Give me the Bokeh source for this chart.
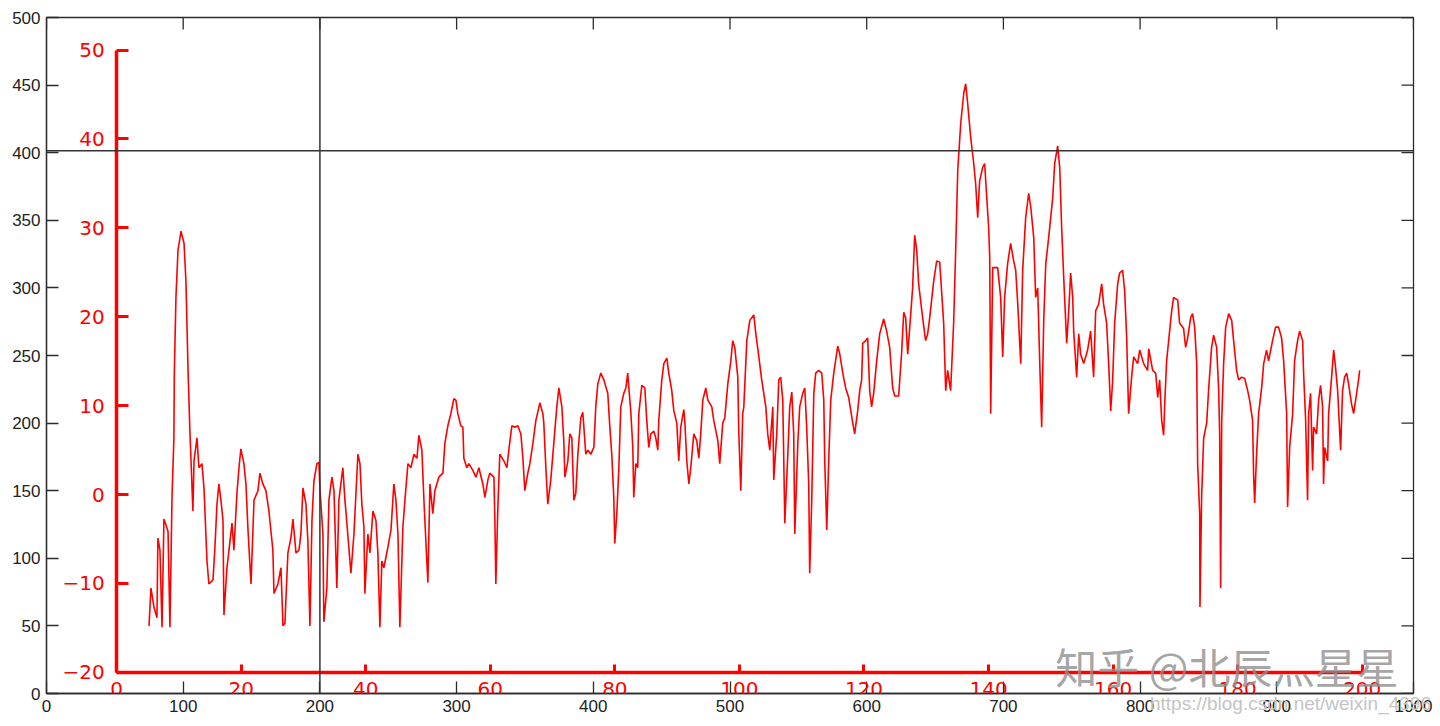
from bokeh.plotting import figure
from bokeh.models import LinearAxis, Range1d, FixedTicker, Span, Label
from bokeh.embed import file_html
from bokeh.resources import INLINE

# ---- axes ticks ----
x_ticks = list(range(0, 1001, 100))
y_ticks = list(range(0, 501, 50))
red_x_ticks = list(range(0, 201, 20))
red_y_ticks = list(range(-20, 51, 10))

# crosshair cursor position (black axes units)
cursor_x = 200
cursor_y = 401.5

# red overlay's own axes expressed against the black axes' range
red_x_range = (-11.26, 208.23)
red_y_range = (-22.38, 53.66)

# watermark texts
wm_zhihu = "知乎 @北辰灬星星"
wm_csdn = "https://blog.csdn.net/weixin_4396"

# ---- red trace (black axes units) ----
x_vals = [
    75.0, 76.4, 78.6, 80.8, 81.5, 83.0, 84.5, 85.9, 88.9, 90.3, 91.8, 93.2, 93.5, 94.7, 96.2, 98.4,
    100.6, 102.0, 103.5, 104.9, 107.1, 107.9, 110.1, 111.5, 113.7, 115.2, 117.4, 118.8, 121.8, 123.2,
    124.7, 126.1, 127.6, 129.1, 129.8, 132.0, 133.5, 135.7, 137.1, 139.3, 140.8, 142.2, 144.4, 145.9,
    147.4, 149.6, 151.8, 154.7, 156.1, 158.3, 160.5, 162.7, 165.6, 166.4, 169.3, 171.5, 173.0, 174.4,
    176.6, 178.8, 180.3, 182.5, 184.7, 186.1, 187.6, 189.8, 191.2, 192.7, 194.2, 195.6, 197.8, 199.3,
    200.0, 202.2, 202.9, 205.1, 206.6, 208.8, 210.3, 212.4, 213.9, 216.8, 218.3,
    219.0, 222.7, 224.9, 227.8, 229.3, 230.7, 232.2, 232.9, 235.1, 236.6, 238.8, 241.0, 242.4, 243.9,
    245.3, 246.8, 249.7, 252.0, 254.1, 255.6, 257.1, 258.5, 260.7, 262.2, 264.4, 266.6, 268.8, 271.0,
    272.4, 274.6, 276.1, 277.5, 279.0, 280.5, 282.6, 284.1, 287.0, 290.0, 291.4, 293.6, 295.8, 298.0,
    299.5, 300.9, 303.1, 304.6, 305.3, 307.5, 309.0, 311.9, 314.1, 316.3, 319.2, 320.7, 322.9, 324.3,
    327.3, 328.0, 328.7, 330.2, 331.6, 334.6, 336.8, 338.2, 340.4, 342.6, 344.8, 347.0, 348.5, 349.9,
    352.1, 353.6, 355.8, 358.0, 360.9, 363.1,
    363.8, 365.3, 366.7, 368.9, 371.1, 373.3, 374.8, 377.0, 378.4, 379.2, 381.4, 382.8, 384.3, 385.8,
    387.2, 388.7, 390.9, 392.3, 393.1, 394.5, 396.0, 398.2, 400.4, 401.8, 403.3, 405.5, 407.7, 410.6,
    412.1, 413.5, 415.0, 415.7, 417.2, 418.7, 420.1, 422.3, 423.8, 425.2, 426.0, 427.4, 428.9, 429.6,
    431.1, 432.5, 433.3, 435.5, 437.7, 439.1, 440.6, 442.1, 444.3, 445.7, 447.2, 447.9, 450.1, 451.6,
    453.8, 455.2, 457.4, 458.9, 461.1, 462.5, 464.0, 466.2, 466.9, 468.4, 469.9, 471.3, 473.5, 475.7,
    477.2, 478.6, 480.1, 482.3, 483.8, 486.7, 488.1, 491.1, 492.5, 494.7, 496.2, 498.4, 500.6, 502.0,
    503.5, 505.7, 506.4, 507.9, 509.3,
    510.1, 512.3, 514.5, 517.4, 518.9, 521.1, 523.2, 524.7, 526.2, 527.6, 529.1, 531.3, 532.0, 534.2,
    535.7, 537.1, 538.6, 540.1, 542.3, 543.7, 545.2, 546.6, 547.4, 549.6, 551.0, 553.2, 554.7, 556.1,
    557.6, 558.3, 559.8, 561.3, 562.7, 564.9, 567.1, 568.6, 569.3, 570.8, 572.2, 573.7, 575.9, 578.8,
    580.3, 582.5, 584.6, 586.8, 589.8, 591.2, 593.4, 594.9, 596.3, 597.1, 599.3, 600.7, 602.2, 603.6,
    605.1, 607.3, 609.5, 612.4, 614.6, 616.8, 619.0, 620.5, 623.4, 625.6, 627.1, 628.5, 630.0, 631.5,
    633.6, 635.1, 636.6, 638.0, 640.9, 643.1, 644.6, 646.1, 649.0, 651.2, 653.4,
    656.3, 657.8, 659.2, 661.4, 663.6, 665.1, 666.6, 668.8, 671.0, 672.4, 673.9, 676.1, 678.3, 679.7,
    681.2, 682.6, 684.8, 686.3, 687.8, 689.2, 690.0, 690.7, 692.2, 692.9, 695.8, 698.0, 699.5, 700.9,
    703.1, 705.3, 707.5, 709.0, 710.5, 712.7, 714.1, 716.3, 718.5, 720.0, 722.2, 723.6, 725.1, 726.6,
    728.0, 729.5, 731.0, 733.1, 736.1, 737.5, 739.7, 741.2, 742.6, 744.1, 746.3, 747.8, 749.2, 750.7,
    751.4, 753.6, 755.1, 756.5, 758.7, 760.2, 761.6, 763.8, 766.0, 767.5, 769.7, 771.9, 773.3, 775.5,
    777.0, 778.5, 779.9, 781.4, 783.6, 785.0, 787.2, 788.7, 790.2, 791.6, 793.8, 795.3, 798.2, 799.7,
    802.6, 805.5,
    806.3, 809.2, 811.4, 812.9, 814.3, 815.8, 817.2, 818.0, 819.4, 820.9, 823.1, 824.5, 827.5, 828.9,
    831.8, 833.3, 834.8, 837.0, 838.4, 839.9, 841.4, 842.1, 843.6, 843.8, 845.0, 846.5, 848.7, 850.2,
    852.3, 853.8, 856.0, 857.5, 858.2, 858.9, 859.7, 861.1, 862.6, 864.8, 867.0, 868.4, 870.6, 872.1,
    874.3, 876.5, 878.7, 880.1, 882.3, 883.0, 883.8, 885.2, 886.7, 888.9, 890.4, 892.5, 894.0, 896.9,
    899.1, 901.3, 903.5, 905.0, 907.2, 907.9, 909.4, 911.6, 913.0, 915.2, 916.7, 918.9, 919.6, 921.1,
    922.5, 923.3, 924.7, 926.2, 926.9, 929.1, 930.6, 932.0, 933.5, 934.2, 935.0, 937.2, 937.9, 940.1,
    941.6, 943.0, 944.5, 946.7, 948.1, 949.6, 951.1, 952.5, 954.7, 956.2, 958.4, 959.8, 960.6,
]
y_vals = [
    50, 78, 64, 56, 115, 106, 49, 129, 120, 49, 145, 189, 237, 293, 328, 342,
    333, 305, 241, 194, 135, 172, 189, 167, 170, 152, 98, 81, 84, 108,
    140, 155, 143, 128, 58, 93, 106, 126, 106, 148, 167, 181, 170, 155,
    121, 81, 143, 150, 163, 155, 150, 135, 106, 74, 81, 93, 50, 52,
    104, 115, 129, 104, 106, 118, 152, 140, 113, 50, 128, 157, 170, 171,
    152, 118, 53, 78, 143, 160, 150, 78, 143, 167, 143,
    135, 89, 118, 177, 170, 140, 123, 74, 118, 104, 135, 128, 104, 49,
    98, 93, 108, 121, 155, 143, 118, 49, 123, 143, 170, 167, 177, 174,
    191, 180, 143, 113, 82, 155, 133, 150, 160, 163, 185, 198, 207, 218,
    217, 207, 198, 197, 174, 167, 170, 165, 160, 167, 155, 145, 158, 163,
    160, 128, 81, 138, 177, 172, 167, 180, 198, 197, 198, 192, 174, 150,
    163, 170, 185, 202, 215, 207,
    200, 167, 140, 158, 185, 212, 226, 212, 187, 160, 172, 192, 189, 143,
    148, 177, 204, 208, 197, 177, 180, 177, 182, 212, 229, 237, 232, 222,
    197, 177, 145, 111, 133, 167, 212, 222, 226, 237, 226, 209, 182, 145,
    170, 167, 207, 228, 226, 202, 182, 192, 194, 189, 180, 202, 232, 244,
    248, 237, 224, 209, 200, 172, 197, 210, 202, 172, 155, 167, 192, 187,
    174, 192, 217, 226, 217, 212, 202, 187, 170, 200, 204, 229, 246, 261,
    256, 234, 194, 150, 207,
    212, 261, 276, 280, 266, 249, 232, 222, 212, 192, 180, 212, 158, 192,
    232, 234, 217, 126, 177, 212, 223, 192, 118, 185, 212, 222, 226, 197,
    155, 89, 143, 222, 237, 239, 237, 217, 172, 121, 172, 217, 237, 257,
    251, 237, 226, 219, 200, 192, 209, 224, 232, 259, 261, 263, 224, 212,
    222, 246, 266, 277, 268, 256, 226, 220, 220, 253, 282, 278, 251, 271,
    300, 339, 328, 303, 278, 261, 266, 278, 305, 320, 319,
    274, 224, 239, 224, 274, 328, 387, 422, 444, 451, 436, 411, 392, 377,
    352, 379, 389, 392, 367, 345, 322, 207, 315, 315, 315, 293, 249, 293,
    318, 333, 320, 313, 288, 244, 313, 352, 370, 360, 337, 293, 300, 244,
    197, 276, 318, 337, 367, 392, 405, 389, 345, 308, 259, 283, 311, 293,
    268, 234, 266, 251, 244, 249, 254, 268, 234, 283, 288, 303, 288, 274,
    244, 209, 231, 274, 303, 311, 313, 298, 263, 207, 234, 249, 244, 254,
    244, 239,
    255, 239, 237, 219, 232, 202, 191, 214, 246, 261, 283, 293, 291, 274,
    270, 256, 263, 278, 281, 271, 244, 170, 133, 64, 145, 189, 200, 226,
    256, 265, 256, 224, 192, 78, 202, 244, 271, 281, 276, 261, 239, 232,
    234, 233, 224, 217, 202, 163, 141, 177, 207, 226, 244, 254, 246, 261,
    271, 271, 263, 246, 207, 138, 182, 207, 246, 261, 268, 261, 237, 202,
    143, 207, 222, 165, 197, 192, 217, 228, 212, 155, 182, 172, 207, 234,
    254, 241, 224, 180, 224, 234, 237, 229, 214, 207, 222, 232, 239,
]

RED = "#ff0000"
INK = "#2b2b2b"

FRAME_W, FRAME_H = 1367, 676
p = figure(width=46 + FRAME_W + 22, height=17 + FRAME_H + 28,
           x_range=Range1d(x_ticks[0], x_ticks[-1]), y_range=Range1d(y_ticks[0], y_ticks[-1]),
           output_backend="svg", toolbar_location=None,
           min_border_left=46, min_border_right=22,
           min_border_top=17, min_border_bottom=28)
p.extra_x_ranges = {"rx": Range1d(*red_x_range)}
p.extra_y_ranges = {"ry": Range1d(*red_y_range)}
p.grid.visible = False
p.outline_line_color = INK
p.outline_line_width = 1.3
p.background_fill_color = "white"
p.border_fill_color = "white"


def style_black(ax):
    ax.axis_line_color = INK
    ax.axis_line_width = 1.3
    ax.major_tick_line_color = INK
    ax.major_tick_line_width = 1.3
    ax.major_tick_in = 12
    ax.major_tick_out = 0
    ax.minor_tick_line_color = None
    ax.major_label_text_color = "#222222"
    ax.major_label_text_font = "Liberation Sans"
    ax.major_label_text_font_size = "17px"
    ax.major_label_standoff = 6


bx = p.below[0]
bx.ticker = FixedTicker(ticks=x_ticks)
style_black(bx)
ly = p.left[0]
ly.ticker = FixedTicker(ticks=y_ticks)
style_black(ly)

# inward ticks on the top and right edges of the box (12 px long)
tick_dx = 12 * (x_ticks[-1] - x_ticks[0]) / FRAME_W
tick_dy = 12 * (y_ticks[-1] - y_ticks[0]) / FRAME_H
p.segment(x0=x_ticks, y0=[y_ticks[-1]] * len(x_ticks), x1=x_ticks,
          y1=[y_ticks[-1] - tick_dy] * len(x_ticks), line_color=INK, line_width=1.3)
p.segment(x0=[x_ticks[-1]] * len(y_ticks), y0=y_ticks, x1=[x_ticks[-1] - tick_dx] * len(y_ticks),
          y1=y_ticks, line_color=INK, line_width=1.3)

# red trace
p.line(x_vals, y_vals, line_color=RED, line_width=1.6)


def red_label(t):
    return ("\u2212" + str(-t)) if t < 0 else str(t)


ry_axis = LinearAxis(x_range_name="rx", y_range_name="ry", fixed_location=red_x_ticks[0],
                     bounds=(red_y_ticks[0], red_y_ticks[-1]),
                     ticker=FixedTicker(ticks=red_y_ticks),
                     major_label_overrides={t: red_label(t) for t in red_y_ticks})
rx_axis = LinearAxis(x_range_name="rx", y_range_name="ry", fixed_location=red_y_ticks[0],
                     bounds=(red_x_ticks[0], red_x_ticks[-1]),
                     ticker=FixedTicker(ticks=red_x_ticks))
for ax, tin, sd in ((ry_axis, 12, 12), (rx_axis, 8, 10)):
    ax.axis_line_color = RED
    ax.axis_line_width = 3.5
    ax.major_tick_line_color = RED
    ax.major_tick_line_width = 3
    ax.major_tick_in = tin
    ax.major_tick_out = 0
    ax.minor_tick_line_color = None
    ax.major_label_text_color = RED
    ax.major_label_text_font = "DejaVu Sans"
    ax.major_label_text_font_size = "20px"
    ax.major_label_standoff = sd
p.add_layout(ry_axis, "left")
p.add_layout(rx_axis, "below")

# CSDN watermark: an extra bottom axis whose single label is pulled up into the tick-label row
csdn_pos = 910
wm_axis = LinearAxis(ticker=FixedTicker(ticks=[csdn_pos]),
                     major_label_overrides={csdn_pos: wm_csdn})
wm_axis.axis_line_color = None
wm_axis.major_tick_line_color = None
wm_axis.minor_tick_line_color = None
wm_axis.major_tick_in = 0
wm_axis.major_tick_out = 0
wm_axis.major_label_text_color = "#c4c4c4"
wm_axis.major_label_text_font = "Liberation Sans"
wm_axis.major_label_text_font_size = "19px"
wm_axis.major_label_standoff = -22
p.add_layout(wm_axis, "below")

# crosshair cursor
p.add_layout(Span(location=cursor_x, dimension="height", line_color="#333333", line_width=1.5))
p.add_layout(Span(location=cursor_y, dimension="width", line_color="#333333", line_width=1.5))

# Zhihu watermark
p.add_layout(Label(x=738, y=20.7, text=wm_zhihu, text_font="Noto Sans CJK SC",
                   text_font_size="42px", text_color="#8e8e8e", text_alpha=0.8,
                   text_baseline="middle", text_align="left"))

open("out.html", "w").write(file_html(p, INLINE))
